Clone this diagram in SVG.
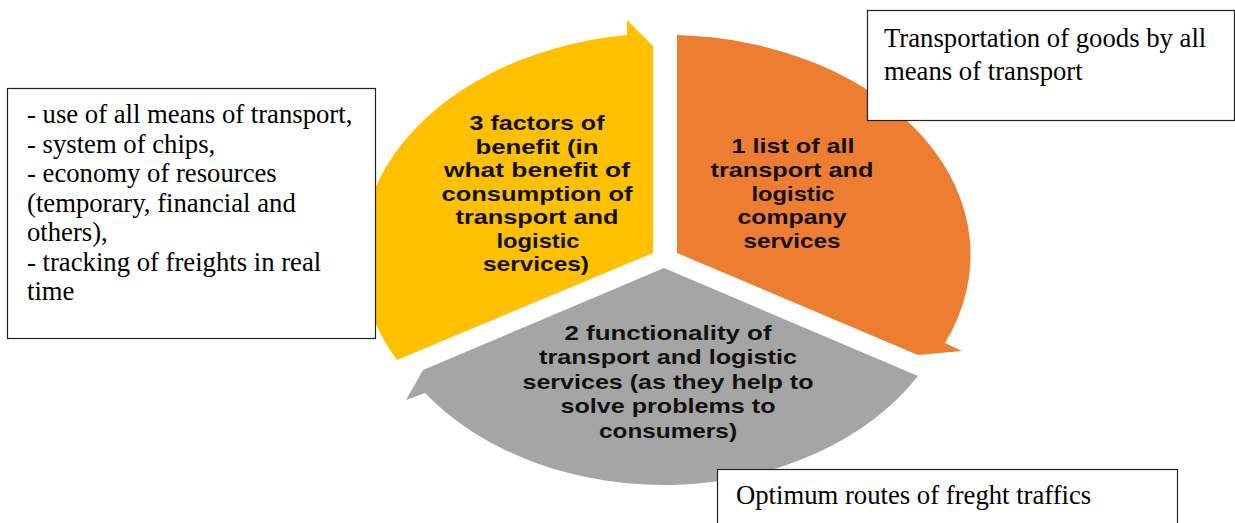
<svg xmlns="http://www.w3.org/2000/svg" width="1235" height="523" viewBox="0 0 1235 523">
<style>
.seg text{font-family:"Liberation Sans",Arial,sans-serif;font-weight:700;font-size:20.5px;fill:#111;text-anchor:middle}
.box rect{fill:#fff;stroke:#222;stroke-width:1.2}
.box text{font-family:"Liberation Serif","Times New Roman",serif;font-size:26.7px;fill:#000}
</style>
<rect width="1235" height="523" fill="#fff"/>
<g id="connectors"/>
<g id="node-orange" class="seg">
<path d="M677,35 A305,220 0 0,1 945,343 L962,351 L918,355 L677,253 Z" fill="#ED7D31"/>
<text x="793" y="153" textLength="123" lengthAdjust="spacingAndGlyphs">1 list of all</text>
<text x="792" y="177" textLength="163" lengthAdjust="spacingAndGlyphs">transport and</text>
<text x="793" y="200.5" textLength="83" lengthAdjust="spacingAndGlyphs">logistic</text>
<text x="792" y="224" textLength="109" lengthAdjust="spacingAndGlyphs">company</text>
<text x="792" y="248" textLength="97" lengthAdjust="spacingAndGlyphs">services</text>
</g>
<g id="node-gray" class="seg">
<path d="M664,268 L918,376 A295,222 0 0,1 425,393 L406,400 L423,370 Z" fill="#A5A5A5"/>
<text x="668" y="340" textLength="207" lengthAdjust="spacingAndGlyphs">2 functionality of</text>
<text x="668" y="364" textLength="258" lengthAdjust="spacingAndGlyphs">transport and logistic</text>
<text x="668" y="388.5" textLength="291" lengthAdjust="spacingAndGlyphs">services (as they help to</text>
<text x="668" y="413" textLength="215" lengthAdjust="spacingAndGlyphs">solve problems to</text>
<text x="668" y="437.5" textLength="138" lengthAdjust="spacingAndGlyphs">consumers)</text>
</g>
<g id="node-yellow" class="seg">
<path d="M653,253 L397,360 A305,222 0 0,1 627,35 L627,20 L653,46 Z" fill="#FFC000"/>
<text x="537" y="130" textLength="135" lengthAdjust="spacingAndGlyphs">3 factors of</text>
<text x="537" y="153.5" textLength="123" lengthAdjust="spacingAndGlyphs">benefit (in</text>
<text x="537" y="177" textLength="186" lengthAdjust="spacingAndGlyphs">what benefit of</text>
<text x="537" y="200.5" textLength="191" lengthAdjust="spacingAndGlyphs">consumption  of</text>
<text x="537" y="224" textLength="163" lengthAdjust="spacingAndGlyphs">transport and</text>
<text x="538" y="247.5" textLength="83" lengthAdjust="spacingAndGlyphs">logistic</text>
<text x="536" y="271" textLength="106" lengthAdjust="spacingAndGlyphs">services)</text>
</g>
<g id="box-top-right" class="box">
<rect x="867.5" y="10.5" width="367" height="110"/>
<text x="884" y="47">Transportation of goods by all</text>
<text x="884" y="80">means of transport</text>
</g>
<g id="box-left" class="box">
<rect x="7.5" y="88.5" width="368" height="250"/>
<text x="27" y="123">- use of all means of transport,</text>
<text x="27" y="152.5">- system of chips,</text>
<text x="27" y="182">- economy of resources</text>
<text x="27" y="211.5">(temporary, financial and</text>
<text x="27" y="241">others),</text>
<text x="27" y="270.5">- tracking of freights in real</text>
<text x="27" y="300">time</text>
</g>
<g id="box-bottom" class="box">
<rect x="717.5" y="469.5" width="460" height="70"/>
<text x="736" y="504">Optimum routes of freght traffics</text>
</g>
</svg>
